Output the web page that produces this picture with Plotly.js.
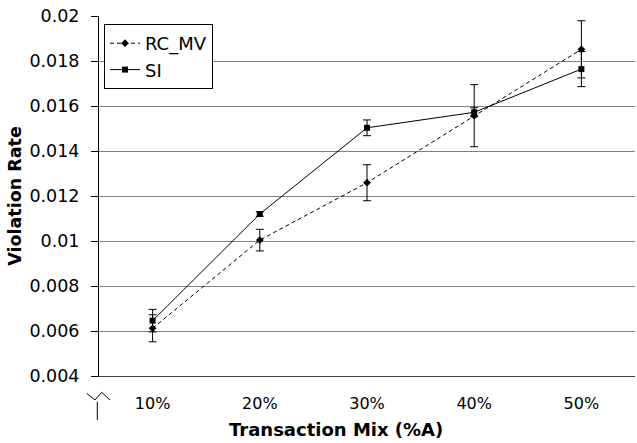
<!DOCTYPE html>
<html>
<head>
<meta charset="utf-8">
<script src="https://cdn.plot.ly/plotly-3.0.1.min.js"></script>
<style>html,body{margin:0;padding:0;background:#fff;}#chart{width:637px;height:443px;}</style>
</head>
<body>
<div id="chart"></div>
<script>
const categories = ['10%', '20%', '30%', '40%', '50%'];
const rcmvValues = [0.00612, 0.01004, 0.01259, 0.01557, 0.01852];
const rcmvErrors = [0.0006, 0.00048, 0.0008, 0.00138, 0.00127];
const siValues = [0.00646, 0.0112, 0.01503, 0.01572, 0.01764];
const siErrors = [0.0005, 0.0001, 0.00035, 0.0002, 0.00078];
const yTickVals = [0.004, 0.006, 0.008, 0.01, 0.012, 0.014, 0.016, 0.018, 0.02];
const yTickText = ['0.004', '0.006', '0.008', '0.01', '0.012', '0.014', '0.016', '0.018', '0.02'];
const xTitle = 'Transaction Mix (%A)';
const yTitle = 'Violation Rate';

const L = 99, R = 635, T = 16, B = 376;
const px = x => (x - L) / (R - L);
const py = y => (B - y) / (B - T);

const traces = [
  {
    x: categories, y: rcmvValues, name: 'RC_MV', type: 'scatter', mode: 'lines+markers',
    line: {color: '#000', width: 1, dash: '4px,3px'},
    marker: {symbol: 'diamond', size: 6, color: '#000'},
    error_y: {type: 'data', array: rcmvErrors, visible: true, color: '#000', thickness: 1, width: 4}
  },
  {
    x: categories, y: siValues, name: 'SI', type: 'scatter', mode: 'lines+markers',
    line: {color: '#000', width: 1},
    marker: {symbol: 'square', size: 6, color: '#000'},
    error_y: {type: 'data', array: siErrors, visible: true, color: '#000', thickness: 1, width: 4}
  }
];

const zig = 'M ' + px(86.7) + ',' + py(393.3) + ' L ' + px(95) + ',' + py(400) + ' L ' + px(101.7) + ',' + py(392.3) +
            ' L ' + px(110) + ',' + py(400);

const layout = {
  width: 637, height: 443,
  margin: {l: L, r: 637 - R, t: T, b: 443 - B, pad: 0},
  paper_bgcolor: '#fff', plot_bgcolor: '#fff',
  font: {family: 'DejaVu Sans, Verdana, sans-serif', size: 16, color: '#000'},
  showlegend: true,
  legend: {
    x: px(104), y: py(24), xanchor: 'left', yanchor: 'top',
    bgcolor: '#fff', bordercolor: '#000', borderwidth: 1,
    font: {size: 18, color: '#000'}, tracegroupgap: 0, itemwidth: 30
  },
  xaxis: {
    type: 'category', range: [-0.5, 4.5],
    showgrid: false, zeroline: false,
    showline: true, linecolor: '#444', linewidth: 1,
    ticks: '', ticklabelstandoff: 13,
    tickfont: {size: 16}
  },
  yaxis: {
    range: [0.004, 0.02],
    tickvals: yTickVals, ticktext: yTickText,
    showgrid: true, gridcolor: '#808080', gridwidth: 1,
    zeroline: false,
    showline: true, linecolor: '#000', linewidth: 1,
    ticks: 'outside', ticklen: 7, tickcolor: '#000',
    ticklabelstandoff: 8,
    tickfont: {size: 17.5},
    title: {text: yTitle, font: {size: 17.5, weight: 'bold'}, standoff: 3}
  },
  annotations: [
    {text: xTitle, xref: 'paper', yref: 'paper', x: px(336), y: py(430), xanchor: 'center', yanchor: 'middle',
     showarrow: false, font: {size: 18, weight: 'bold', color: '#000'}}
  ],
  shapes: [
    {type: 'path', xref: 'paper', yref: 'paper', path: zig, line: {color: '#000', width: 1}},
    {type: 'line', xref: 'paper', yref: 'paper', x0: px(97.3), x1: px(97.3), y0: py(401.7), y1: py(420), line: {color: '#000', width: 1}}
  ]
};

Plotly.newPlot('chart', traces, layout, {displayModeBar: false, staticPlot: true});
</script>
</body>
</html>
